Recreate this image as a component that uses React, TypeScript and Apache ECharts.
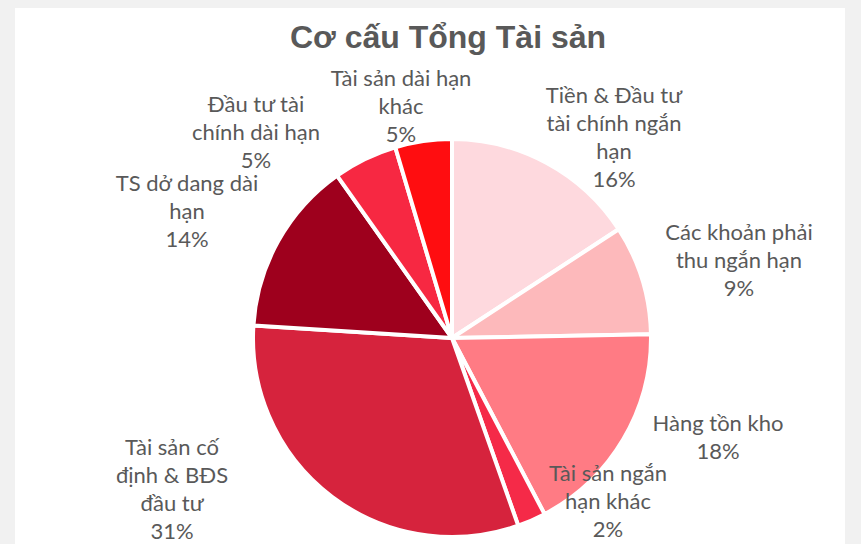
import React, { useEffect, useRef } from "react";
import * as echarts from "echarts";

const categories = [
  "Tiền & Đầu tư\ntài chính ngắn\nhạn",
  "Các khoản phải\nthu ngắn hạn",
  "Hàng tồn kho",
  "Tài sản ngắn\nhạn khác",
  "Tài sản cố\nđịnh & BĐS\nđầu tư",
  "TS dở dang dài\nhạn",
  "Đầu tư tài\nchính dài hạn",
  "Tài sản dài hạn\nkhác",
];
const values = [15.8, 8.9, 17.6, 2.3, 31.4, 14.2, 5.2, 4.6];
const colors = ["#fed9de", "#fdb9bb", "#ff7b84", "#f52a48", "#d6233d", "#9e001d", "#f72842", "#ff0d10"];
// label anchor centers (layout only)
const labelAnchors: [number, number][] = [
  [614, 136],
  [739, 259],
  [718, 436],
  [608, 500],
  [172, 488],
  [187, 210],
  [256, 131],
  [401, 105],
];

export default function App() {
  const ref = useRef<HTMLDivElement>(null);
  useEffect(() => {
    document.body.style.margin = "0";
    document.body.style.background = "#f1f1f1";
    const chart = echarts.init(ref.current!, undefined, { renderer: "svg" });
    chart.setOption({
      animation: false,
      title: {
        text: "Cơ cấu Tổng Tài sản",
        left: 443,
        top: 16,
        textAlign: "center",
        textStyle: {
          fontFamily: "Liberation Sans, Arial, sans-serif",
          fontWeight: "bold",
          fontSize: 32,
          color: "#595959",
        },
      },
      series: [
        {
          type: "pie",
          center: [452, 338],
          radius: 199,
          startAngle: 90,
          clockwise: true,
          avoidLabelOverlap: false,
          itemStyle: { borderColor: "#ffffff", borderWidth: 4 },
          label: {
            show: true,
            position: "outside",
            formatter: (p: any) => `${p.name}\n${Math.round(p.percent)}%`,
            fontFamily: "Lato, sans-serif",
            fontSize: 22,
            lineHeight: 28,
            color: "#595959",
            align: "center",
          },
          labelLine: { show: false },
          labelLayout: (p: any) => ({
            x: labelAnchors[p.dataIndex][0],
            y: labelAnchors[p.dataIndex][1],
            align: "center",
            verticalAlign: "middle",
          }),
          emphasis: { disabled: true },
          data: categories.map((c, i) => ({ name: c, value: values[i], itemStyle: { color: colors[i] } })),
        },
      ],
    });
    return () => chart.dispose();
  }, []);
  return (
    <div style={{ position: "relative", width: 861, height: 544, background: "#f1f1f1", overflow: "hidden" }}>
      <div style={{ position: "absolute", left: 15, top: 8, width: 830, height: 536, background: "#ffffff" }} />
      <div ref={ref} style={{ position: "absolute", left: 0, top: 0, width: 861, height: 544 }} />
    </div>
  );
}
